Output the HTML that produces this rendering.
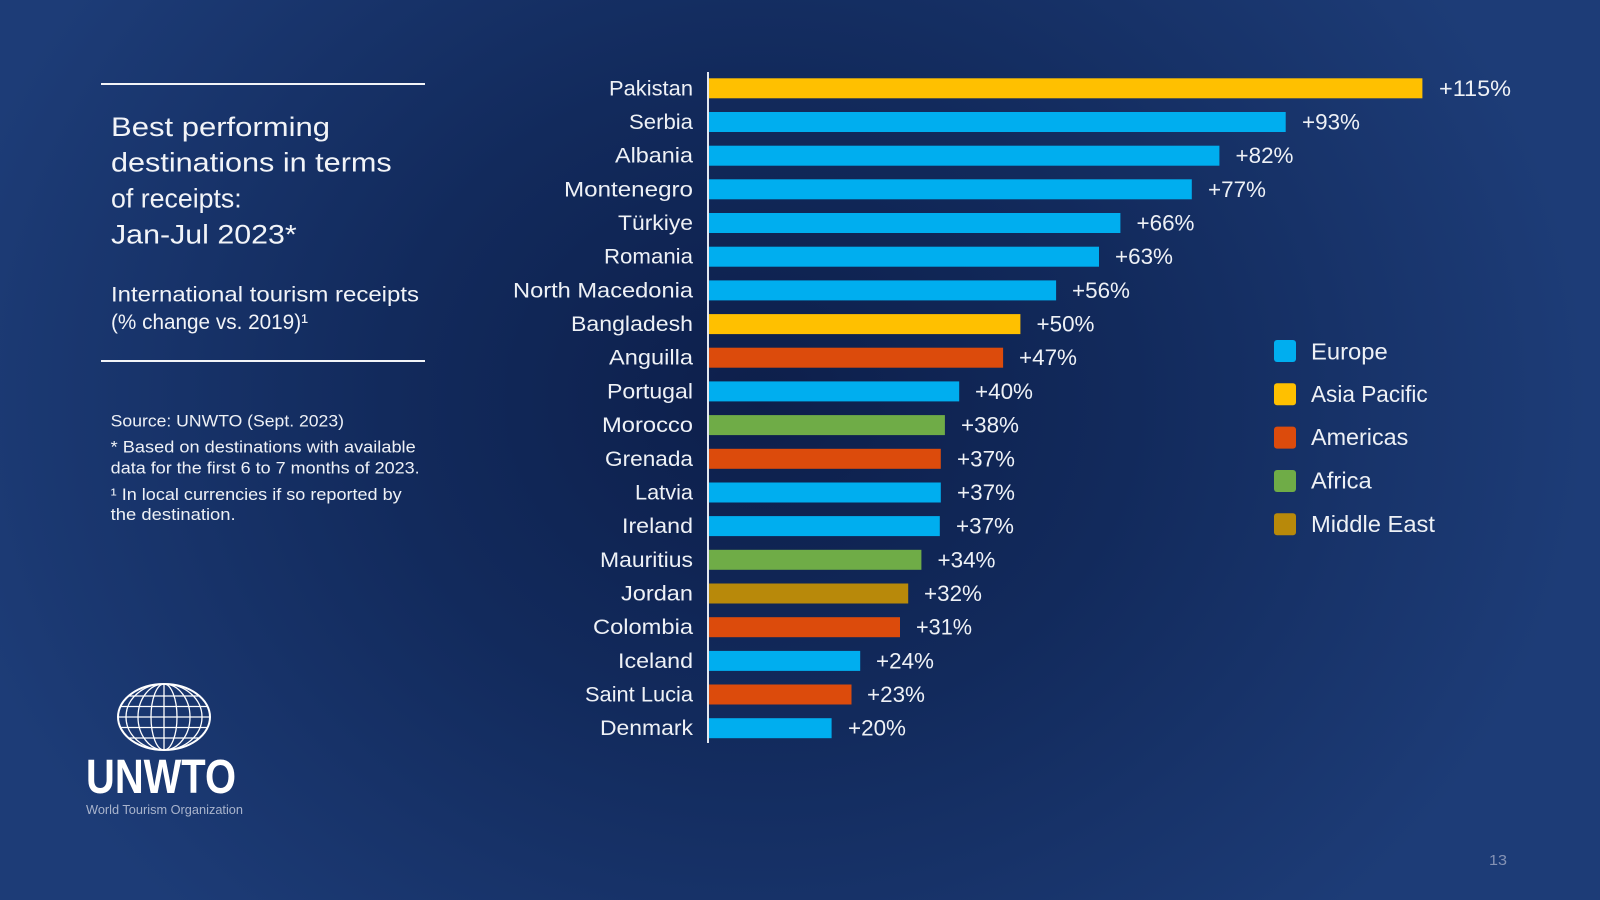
<!DOCTYPE html>
<html>
<head>
<meta charset="utf-8">
<style>
html,body{margin:0;padding:0;width:1600px;height:900px;overflow:hidden;background:#1a3870;}
svg{display:block;}
text{font-family:"Liberation Sans",sans-serif;}
</style>
</head>
<body>
<svg width="1600" height="900" viewBox="0 0 1600 900" xmlns="http://www.w3.org/2000/svg">
<defs>
<radialGradient id="bg" gradientUnits="userSpaceOnUse" cx="760" cy="400" r="720" gradientTransform="translate(760 400) scale(1.15 1) translate(-760 -400)">
<stop offset="0" stop-color="#0d1f4b"/>
<stop offset="0.45" stop-color="#122a5c"/>
<stop offset="1" stop-color="#1d3c77"/>
</radialGradient>
<clipPath id="globe"><ellipse cx="164" cy="717" rx="46" ry="33"/></clipPath>
</defs>
<rect x="0" y="0" width="1600" height="900" fill="url(#bg)"/>

<!-- Left panel -->
<line x1="101" y1="84" x2="425" y2="84" stroke="#f2f4f8" stroke-width="2"/>
<line x1="101" y1="361" x2="425" y2="361" stroke="#f2f4f8" stroke-width="2"/>
<g fill="#f2f4f8" font-size="27">
<text x="111" y="136" textLength="219" lengthAdjust="spacingAndGlyphs">Best performing</text>
<text x="111" y="171.7" textLength="280.7" lengthAdjust="spacingAndGlyphs">destinations in terms</text>
<text x="111" y="207.5" textLength="130.7" lengthAdjust="spacingAndGlyphs">of receipts:</text>
<text x="111" y="243.3" textLength="185.7" lengthAdjust="spacingAndGlyphs">Jan-Jul 2023*</text>
</g>
<g fill="#f2f4f8" font-size="21">
<text x="111" y="301.7" textLength="308" lengthAdjust="spacingAndGlyphs">International tourism receipts</text>
<text x="111" y="329" textLength="197" lengthAdjust="spacingAndGlyphs">(% change vs. 2019)¹</text>
</g>
<g fill="#eef1f6" font-size="17">
<text x="110.7" y="426.7" textLength="233.3" lengthAdjust="spacingAndGlyphs">Source: UNWTO (Sept. 2023)</text>
<text x="110.7" y="452.7" textLength="305" lengthAdjust="spacingAndGlyphs">*  Based on destinations with available</text>
<text x="110.7" y="473.3" textLength="309" lengthAdjust="spacingAndGlyphs">data for the first 6 to 7 months of 2023.</text>
<text x="110.7" y="500" textLength="291" lengthAdjust="spacingAndGlyphs">¹ In local currencies if so reported by</text>
<text x="110.7" y="520" textLength="125" lengthAdjust="spacingAndGlyphs">the destination.</text>
</g>

<!-- Logo -->
<g stroke="#ffffff" fill="none">
<ellipse cx="164" cy="717" rx="46" ry="33" stroke-width="2"/>
<g clip-path="url(#globe)" stroke-width="1.3">
<ellipse cx="164" cy="717" rx="13" ry="33"/>
<ellipse cx="164" cy="717" rx="26" ry="33"/>
<ellipse cx="164" cy="717" rx="38" ry="33"/>
<line x1="164" y1="680" x2="164" y2="754"/>
<line x1="110" y1="696" x2="220" y2="696"/>
<line x1="110" y1="706.5" x2="220" y2="706.5"/>
<line x1="110" y1="717" x2="220" y2="717"/>
<line x1="110" y1="727.5" x2="220" y2="727.5"/>
<line x1="110" y1="738" x2="220" y2="738"/>
</g>
</g>
<text x="86" y="793" font-size="48" font-weight="bold" fill="#ffffff" textLength="150" lengthAdjust="spacingAndGlyphs">UNWTO</text>
<text x="86" y="814" font-size="13" fill="#a9b4cc" textLength="157" lengthAdjust="spacingAndGlyphs">World Tourism Organization</text>

<!-- Bars -->
<g>
<rect x="709" y="78.3" width="713.4" height="20" fill="#FFC000"/>
<rect x="709" y="112.0" width="576.7" height="20" fill="#00AEEF"/>
<rect x="709" y="145.7" width="510.4" height="20" fill="#00AEEF"/>
<rect x="709" y="179.3" width="482.8" height="20" fill="#00AEEF"/>
<rect x="709" y="213.0" width="411.4" height="20" fill="#00AEEF"/>
<rect x="709" y="246.7" width="390" height="20" fill="#00AEEF"/>
<rect x="709" y="280.4" width="347.1" height="20" fill="#00AEEF"/>
<rect x="709" y="314.1" width="311.4" height="20" fill="#FFC000"/>
<rect x="709" y="347.7" width="294.1" height="20" fill="#DC4B0C"/>
<rect x="709" y="381.4" width="250.2" height="20" fill="#00AEEF"/>
<rect x="709" y="415.1" width="235.9" height="20" fill="#6FAC47"/>
<rect x="709" y="448.8" width="231.8" height="20" fill="#DC4B0C"/>
<rect x="709" y="482.5" width="231.8" height="20" fill="#00AEEF"/>
<rect x="709" y="516.1" width="230.8" height="20" fill="#00AEEF"/>
<rect x="709" y="549.8" width="212.4" height="20" fill="#6FAC47"/>
<rect x="709" y="583.5" width="199.2" height="20" fill="#B8890A"/>
<rect x="709" y="617.2" width="191" height="20" fill="#DC4B0C"/>
<rect x="709" y="650.9" width="151.2" height="20" fill="#00AEEF"/>
<rect x="709" y="684.5" width="142.5" height="20" fill="#DC4B0C"/>
<rect x="709" y="718.2" width="122.6" height="20" fill="#00AEEF"/>
</g>
<line x1="708" y1="72" x2="708" y2="743" stroke="#e3e7ef" stroke-width="2"/>

<!-- Country labels -->
<g fill="#eef1f6" font-size="21" text-anchor="end">
<text x="693" y="95.3" textLength="84" lengthAdjust="spacingAndGlyphs">Pakistan</text>
<text x="693" y="129.0" textLength="64" lengthAdjust="spacingAndGlyphs">Serbia</text>
<text x="693" y="162.7" textLength="78" lengthAdjust="spacingAndGlyphs">Albania</text>
<text x="693" y="196.3" textLength="129" lengthAdjust="spacingAndGlyphs">Montenegro</text>
<text x="693" y="230.0" textLength="75" lengthAdjust="spacingAndGlyphs">Türkiye</text>
<text x="693" y="263.7" textLength="89" lengthAdjust="spacingAndGlyphs">Romania</text>
<text x="693" y="297.4" textLength="180" lengthAdjust="spacingAndGlyphs">North Macedonia</text>
<text x="693" y="331.1" textLength="122" lengthAdjust="spacingAndGlyphs">Bangladesh</text>
<text x="693" y="364.7" textLength="84" lengthAdjust="spacingAndGlyphs">Anguilla</text>
<text x="693" y="398.4" textLength="86" lengthAdjust="spacingAndGlyphs">Portugal</text>
<text x="693" y="432.1" textLength="91" lengthAdjust="spacingAndGlyphs">Morocco</text>
<text x="693" y="465.8" textLength="88" lengthAdjust="spacingAndGlyphs">Grenada</text>
<text x="693" y="499.5" textLength="58" lengthAdjust="spacingAndGlyphs">Latvia</text>
<text x="693" y="533.1" textLength="71" lengthAdjust="spacingAndGlyphs">Ireland</text>
<text x="693" y="566.8" textLength="93" lengthAdjust="spacingAndGlyphs">Mauritius</text>
<text x="693" y="600.5" textLength="72" lengthAdjust="spacingAndGlyphs">Jordan</text>
<text x="693" y="634.2" textLength="100" lengthAdjust="spacingAndGlyphs">Colombia</text>
<text x="693" y="667.9" textLength="75" lengthAdjust="spacingAndGlyphs">Iceland</text>
<text x="693" y="701.5" textLength="108" lengthAdjust="spacingAndGlyphs">Saint Lucia</text>
<text x="693" y="735.2" textLength="93" lengthAdjust="spacingAndGlyphs">Denmark</text>
</g>

<!-- Value labels -->
<g fill="#eef1f6" font-size="22">
<text x="1439" y="95.8" textLength="72" lengthAdjust="spacingAndGlyphs">+115%</text>
<text x="1302" y="129.5" textLength="58" lengthAdjust="spacingAndGlyphs">+93%</text>
<text x="1235.5" y="163.2" textLength="58" lengthAdjust="spacingAndGlyphs">+82%</text>
<text x="1208" y="196.8" textLength="58" lengthAdjust="spacingAndGlyphs">+77%</text>
<text x="1136.5" y="230.5" textLength="58" lengthAdjust="spacingAndGlyphs">+66%</text>
<text x="1115" y="264.2" textLength="58" lengthAdjust="spacingAndGlyphs">+63%</text>
<text x="1072" y="297.9" textLength="58" lengthAdjust="spacingAndGlyphs">+56%</text>
<text x="1036.5" y="331.6" textLength="58" lengthAdjust="spacingAndGlyphs">+50%</text>
<text x="1019" y="365.2" textLength="58" lengthAdjust="spacingAndGlyphs">+47%</text>
<text x="975" y="398.9" textLength="58" lengthAdjust="spacingAndGlyphs">+40%</text>
<text x="961" y="432.6" textLength="58" lengthAdjust="spacingAndGlyphs">+38%</text>
<text x="957" y="466.3" textLength="58" lengthAdjust="spacingAndGlyphs">+37%</text>
<text x="957" y="500.0" textLength="58" lengthAdjust="spacingAndGlyphs">+37%</text>
<text x="956" y="533.6" textLength="58" lengthAdjust="spacingAndGlyphs">+37%</text>
<text x="937.5" y="567.3" textLength="58" lengthAdjust="spacingAndGlyphs">+34%</text>
<text x="924" y="601.0" textLength="58" lengthAdjust="spacingAndGlyphs">+32%</text>
<text x="916" y="634.7" textLength="56" lengthAdjust="spacingAndGlyphs">+31%</text>
<text x="876" y="668.4" textLength="58" lengthAdjust="spacingAndGlyphs">+24%</text>
<text x="867" y="702.0" textLength="58" lengthAdjust="spacingAndGlyphs">+23%</text>
<text x="848" y="735.7" textLength="58" lengthAdjust="spacingAndGlyphs">+20%</text>
</g>

<!-- Legend -->
<g>
<rect x="1274" y="340" width="22" height="22" rx="3" fill="#00AEEF"/>
<rect x="1274" y="383.3" width="22" height="22" rx="3" fill="#FFC000"/>
<rect x="1274" y="426.6" width="22" height="22" rx="3" fill="#DC4B0C"/>
<rect x="1274" y="470" width="22" height="22" rx="3" fill="#6FAC47"/>
<rect x="1274" y="513.3" width="22" height="22" rx="3" fill="#B8890A"/>
</g>
<g fill="#eef1f6" font-size="23">
<text x="1311" y="359.3" textLength="76.7" lengthAdjust="spacingAndGlyphs">Europe</text>
<text x="1311" y="402" textLength="116.7" lengthAdjust="spacingAndGlyphs">Asia Pacific</text>
<text x="1311" y="445" textLength="97.3" lengthAdjust="spacingAndGlyphs">Americas</text>
<text x="1311" y="488.3" textLength="60.7" lengthAdjust="spacingAndGlyphs">Africa</text>
<text x="1311" y="532" textLength="124" lengthAdjust="spacingAndGlyphs">Middle East</text>
</g>

<text x="1489" y="865" font-size="15" fill="#8492b4" textLength="18" lengthAdjust="spacingAndGlyphs">13</text>
</svg>
</body>
</html>
